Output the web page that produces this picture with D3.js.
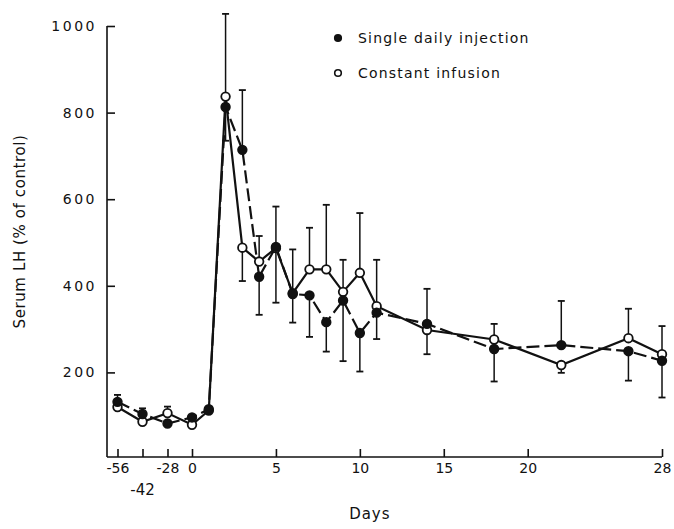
<!DOCTYPE html>
<html>
<head>
<meta charset="utf-8">
<script src="https://cdn.jsdelivr.net/npm/d3@7"></script>
<style>
    body { margin: 0; background: #fff; }
    svg text { font-family: "DejaVu Sans", "Liberation Sans", sans-serif; fill: #111; }
</style>
</head>
<body>
<div id="chart"></div>
<script>

const days = [-56, -42, -28, 0, 1, 2, 3, 4, 5, 6, 7, 8, 9, 10, 11, 14, 18, 22, 26, 28];

const injectionValues = [132, 104, 82, 96, 115, 813, 714, 421, 490, 381, 378, 316, 366, 291, 338, 312, 254, 263, 249, 227];
const injectionErrEnd = [148, 117, null, null, null, 735, 852, 333, 361, 315, 282, 248, 226, 202, 277, 393, 179, 365, 181, 142];

const infusionValues = [120, 86, 106, 79, 112, 837, 488, 456, 487, 383, 438, 438, 386, 430, 353, 298, 276, 217, 279, 242];
const infusionErrEnd = [null, null, 121, null, null, 1028, 411, 515, 583, 484, 534, 587, 460, 568, 460, 242, 312, 199, 347, 307];

const xTicks = [-56, -42, -28, 0, 5, 10, 15, 20, 28];
const yTicks = [200, 400, 600, 800, 1000];

const legendLabels = ["Single daily injection", "Constant infusion"];


const renderChart = function(svgWidth, svgHeight, svgElem) {

    const margin = {top: 26, right: 12, bottom: 72, left: 107};
    const innerWidth = svgWidth - margin.left - margin.right;
    const innerHeight = svgHeight - margin.top - margin.bottom;

    // the pre-treatment days are squeezed onto a short stretch of axis
    const xScale = d3.scaleLinear()
                     .domain([-56, -42, -28, 0, 28])
                     .range([10.5, 35.5, 60.5, 85, innerWidth]);

    const yScale = d3.scaleLinear()
                     .domain([0, 1000])
                     .range([innerHeight + 2, 0]);

    const g = svgElem.append("g")
                     .attr("transform", `translate(${margin.left}, ${margin.top})`);

    const xAxis = d3.axisBottom(xScale)
                    .tickValues(xTicks)
                    .tickSize(-8)
                    .tickSizeOuter(0)
                    .tickPadding(6)
                    .tickFormat(d => d === -42 ? "" : d);

    const yAxis = d3.axisLeft(yScale)
                    .tickValues(yTicks)
                    .tickSize(-8)
                    .tickSizeOuter(0)
                    .tickPadding(10)
                    .tickFormat(d3.format("d"));

    const xAxisGroup = g.append("g")
                        .attr("transform", `translate(0, ${innerHeight})`)
                        .call(xAxis);

    xAxisGroup.select(".domain").attr("d", `M0,0H${innerWidth}`);

    xAxisGroup.append("text")
              .attr("x", xScale(-42))
              .attr("y", 38)
              .attr("text-anchor", "middle")
              .attr("font-size", 15)
              .text("-42");

    xAxisGroup.append("text")
              .attr("x", xScale(10) + 10)
              .attr("y", 62)
              .attr("text-anchor", "middle")
              .attr("font-size", 15)
              .attr("letter-spacing", 1)
              .text("Days");

    const yAxisGroup = g.append("g").call(yAxis);

    yAxisGroup.select(".domain").attr("d", `M0,0V${innerHeight}`);

    yAxisGroup.append("text")
              .attr("transform", "rotate(-90)")
              .attr("x", -(innerHeight / 2) + 10)
              .attr("y", -82)
              .attr("text-anchor", "middle")
              .attr("font-size", 15)
              .attr("letter-spacing", 0.6)
              .text("Serum LH (% of control)");

    g.selectAll(".tick text")
     .attr("font-size", 14)
     .attr("fill", "#111");

    yAxisGroup.selectAll(".tick text").attr("letter-spacing", 2.5);

    g.selectAll(".domain, .tick line")
     .attr("stroke", "#111")
     .attr("stroke-width", 1.6);

    const series = [
        {values: injectionValues, err: injectionErrEnd, filled: true, dash: "13,5"},
        {values: infusionValues, err: infusionErrEnd, filled: false, dash: null}
    ];

    const line = d3.line()
                   .x(d => xScale(d.day))
                   .y(d => yScale(d.value));

    series.forEach(function(s) {
        const points = days.map((day, i) => ({day: day, value: s.values[i], err: s.err[i]}));

        const bars = g.append("g")
                      .selectAll("g")
                      .data(points.filter(d => d.err !== null))
                      .enter()
                      .append("g");

        bars.append("line")
            .attr("x1", d => xScale(d.day))
            .attr("x2", d => xScale(d.day))
            .attr("y1", d => yScale(d.value))
            .attr("y2", d => yScale(d.err))
            .attr("stroke", "#111")
            .attr("stroke-width", 1.5);

        bars.append("line")
            .attr("x1", d => xScale(d.day) - 3.5)
            .attr("x2", d => xScale(d.day) + 3.5)
            .attr("y1", d => yScale(d.err))
            .attr("y2", d => yScale(d.err))
            .attr("stroke", "#111")
            .attr("stroke-width", 1.8);

        g.append("path")
         .datum(points)
         .attr("d", line)
         .attr("fill", "none")
         .attr("stroke", "#111")
         .attr("stroke-width", 2.2)
         .attr("stroke-dasharray", s.dash);
    });

    series.slice().reverse().forEach(function(s) {
        g.append("g")
         .selectAll("circle")
         .data(days.map((day, i) => ({day: day, value: s.values[i]})))
         .enter()
         .append("circle")
         .attr("cx", d => xScale(d.day))
         .attr("cy", d => yScale(d.value))
         .attr("r", 4.3)
         .attr("fill", s.filled ? "#111" : "#fff")
         .attr("stroke", "#111")
         .attr("stroke-width", 1.8);
    });

    const legend = svgElem.append("g")
                          .attr("transform", "translate(338, 38)");

    legend.selectAll("circle")
          .data(legendLabels)
          .enter()
          .append("circle")
          .attr("cx", 0)
          .attr("cy", (d, i) => i * 35)
          .attr("r", 3.3)
          .attr("fill", (d, i) => i === 0 ? "#111" : "#fff")
          .attr("stroke", "#111")
          .attr("stroke-width", 1.6);

    legend.selectAll("text")
          .data(legendLabels)
          .enter()
          .append("text")
          .attr("x", 20)
          .attr("y", (d, i) => i * 35 + 5)
          .attr("font-size", 14)
          .attr("letter-spacing", 1.2)
          .text(d => d);
};


const svgWidth = 674;
const svgHeight = 529;

const svg = d3.select("#chart")
              .append("svg")
              .attr("width", svgWidth)
              .attr("height", svgHeight);

renderChart(svgWidth, svgHeight, svg);

</script>
</body>
</html>
